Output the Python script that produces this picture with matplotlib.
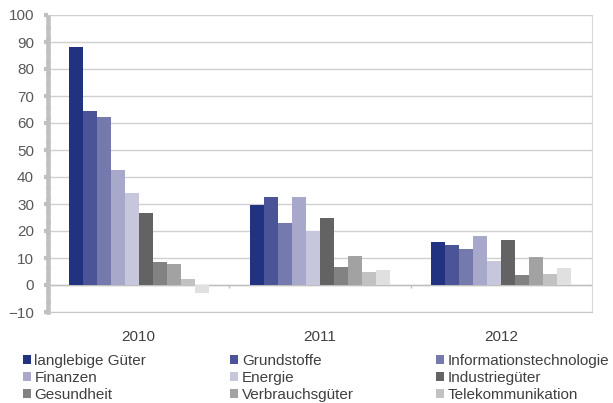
import numpy as np
import matplotlib.pyplot as plt
from matplotlib.patches import Patch

plt.rcParams['font.family'] = ['Liberation Sans', 'DejaVu Sans']

years = ['2010', '2011', '2012']
sectors = ['langlebige Güter', 'Grundstoffe', 'Informationstechnologie',
           'Finanzen', 'Energie', 'Industriegüter',
           'Gesundheit', 'Verbrauchsgüter', 'Telekommunikation', 'Versorger']
values = [
    [88.0, 29.6, 15.8],   # langlebige Güter
    [64.3, 32.6, 14.7],   # Grundstoffe
    [62.2, 23.0, 13.3],   # Informationstechnologie
    [42.5, 32.6, 18.1],   # Finanzen
    [34.2, 20.0, 8.9],    # Energie
    [26.8, 24.7, 16.5],   # Industriegüter
    [8.6, 6.7, 3.8],      # Gesundheit
    [7.7, 10.6, 10.5],    # Verbrauchsgüter
    [2.3, 4.8, 4.0],      # Telekommunikation
    [-2.8, 5.6, 6.2],     # Versorger
]
colors = ['#213280', '#4A5496', '#7479AE', '#A8A9CA', '#C6C6DC',
          '#636363', '#828282', '#A2A2A2', '#C2C2C2', '#E0E0E0']
yticks = list(range(-10, 101, 10))


def main():
    fig = plt.figure(figsize=(6.13, 4.03), dpi=100)
    ax = fig.add_axes([48 / 613, 1 - 312 / 403, 544 / 613, 297 / 403])

    x = np.arange(len(years))
    n = len(sectors)
    group = 140 / 181
    w = group / n
    for i, (name, vals) in enumerate(zip(sectors, values)):
        ax.bar(x - group / 2 + w * (i + 0.5), vals, width=w,
               color=colors[i], edgecolor='none', zorder=3)

    ax.set_xlim(-0.5, len(years) - 0.5)
    ax.set_ylim(yticks[0], yticks[-1])
    ax.set_yticks(yticks)
    ax.set_xticks(x)
    ax.set_xticklabels(years)
    ax.yaxis.grid(True, color='#D0D0D0', linewidth=1, zorder=0)

    # category axis at zero with separators between years
    ax.axhline(0, color='#BFBFBF', linewidth=1, zorder=2)
    ax.vlines(x[:-1] + 0.5, -1.2, 0, color='#BFBFBF', linewidth=1, zorder=2)

    ax.spines['top'].set_visible(False)
    ax.spines['right'].set_color('#D9D9D9')
    ax.spines['bottom'].set_color('#C8C8C8')
    ax.spines['left'].set_color('#C0C0C0')
    ax.spines['left'].set_linewidth(3.3)
    ax.spines['left'].set_linestyle((0, (1.8, 0.7)))

    ax.tick_params(axis='y', length=3, width=3, color='#C0C0C0',
                   labelsize=11, labelcolor='#595959', pad=7)
    ax.tick_params(axis='x', length=0, labelsize=11, labelcolor='#404040',
                   pad=13)

    handles = [Patch(facecolor=c, edgecolor='none') for c in colors]
    col_x = [22.7, 230, 436]
    for col in range(3):
        idx = [col, col + 3, col + 6]
        fig.legend([handles[i] for i in idx], [sectors[i] for i in idx],
                   loc='upper left', bbox_to_anchor=(col_x[col] / 613, 1 - 354 / 403),
                   frameon=False, fontsize=11, handlelength=0.52,
                   handleheight=0.52, handletextpad=0.25, labelspacing=0.2,
                   borderpad=0, borderaxespad=0, labelcolor='#404040')

    fig.savefig('out.png', dpi=100)


if __name__ == '__main__':
    main()
